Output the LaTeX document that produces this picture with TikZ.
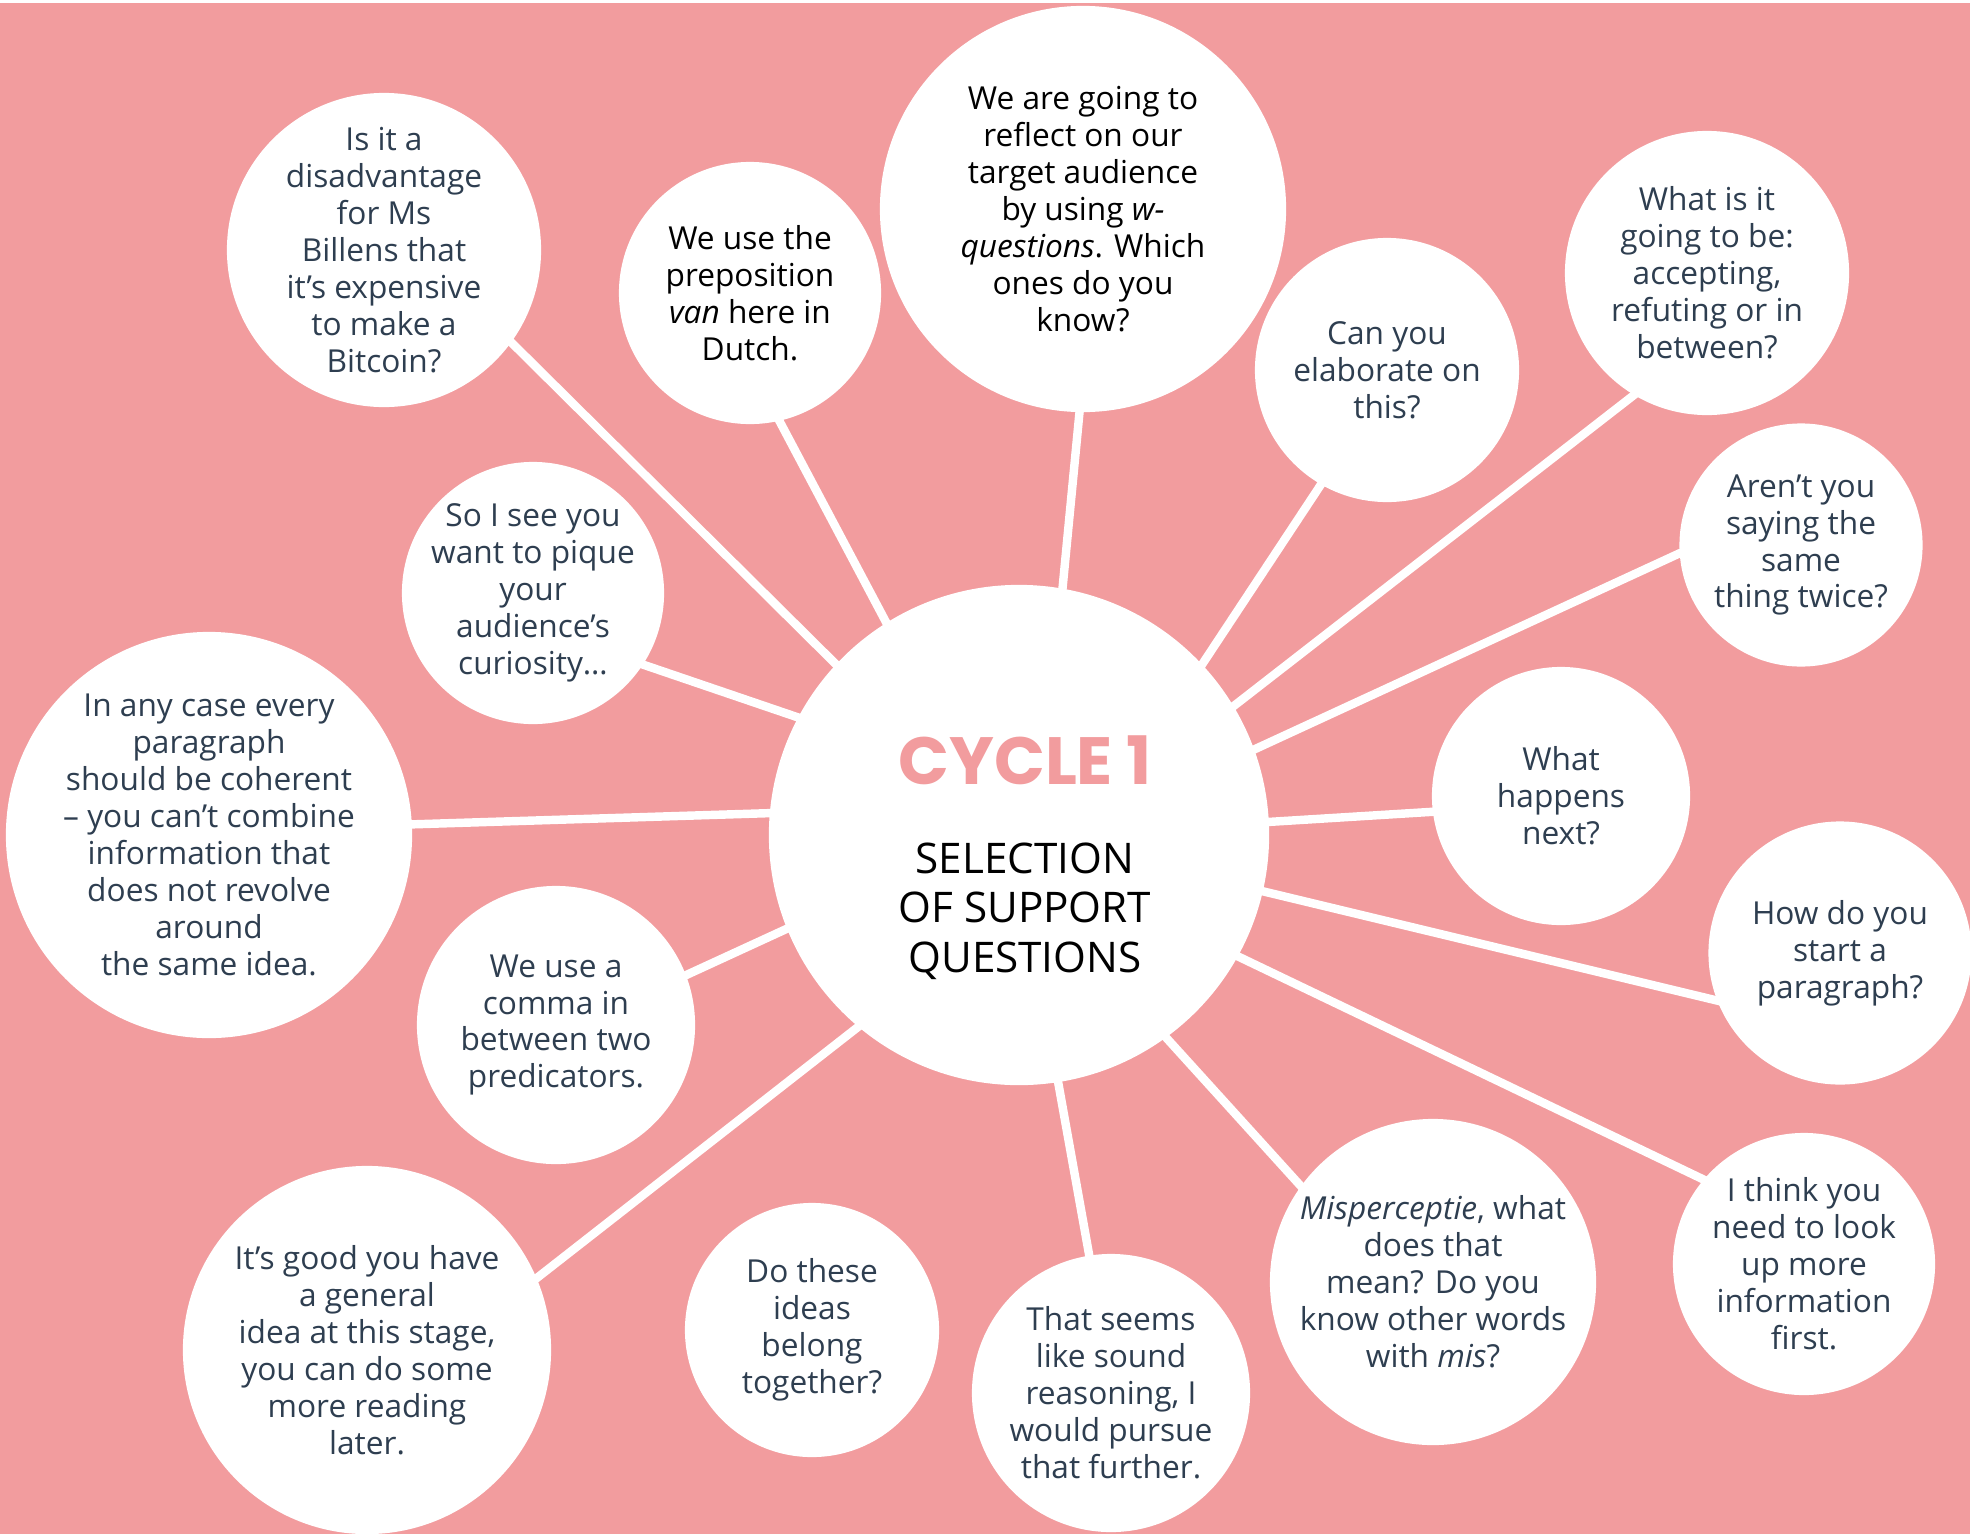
\documentclass[tikz,border=0pt]{standalone}
\usepackage{fontspec}
\setmainfont{Open Sans}
\newfontfamily\titlefont{Poppins}
\usetikzlibrary{backgrounds}
\definecolor{blush}{HTML}{F29C9E}
\definecolor{slate}{HTML}{2E3E50}

\tikzset{
  bubble/.style={circle, fill=white, inner sep=0pt, minimum size=#1},
  ask/.style={font=\fontsize{9}{10.5}\selectfont, text=slate, align=center},
  spoke/.style={draw=white, line width=2.4pt, shorten <=-4pt, shorten >=-4pt},
}

\begin{document}
\begin{tikzpicture}[x=0.01cm, y=-0.01cm]
    \useasboundingbox (0,0) rectangle (1970,1533);

    % hub
    \node[bubble=5cm, label={[xshift=0.06cm, yshift=-0.225cm, align=center, font=\fontsize{12}{14}\selectfont]center:{{\titlefont\bfseries\fontsize{19}{20}\selectfont\color{blush}CYCLE\hspace{0.2em}1}\\[0.4cm]SELECTION\\OF SUPPORT\\QUESTIONS}}] (hub) at (1019,835) {};

    % questions, clockwise from top left
    \node[bubble=3.14cm, label={[ask]center:{Is it a\\disadvantage\\for Ms\\Billens that\\it’s expensive\\to make a\\Bitcoin?}}] (bitcoin) at (384,250) {};
    \node[bubble=2.62cm, label={[ask, text=black]center:{We use the\\preposition\\\emph{van} here in\\Dutch.}}] (van) at (750,293) {};
    \node[bubble=4.06cm, label={[ask, text=black]center:{We are going to\\reflect on our\\target audience\\by using \emph{w-}\\\emph{questions}. Which\\ones do you\\know?}}] (wquest) at (1083,209) {};
    \node[bubble=2.64cm, label={[ask]center:{Can you\\elaborate on\\this?}}] (elaborate) at (1387,370) {};
    \node[bubble=2.84cm, label={[ask]center:{What is it\\going to be:\\accepting,\\refuting or in\\between?}}] (accepting) at (1707,273) {};
    \node[bubble=2.43cm, label={[ask]center:{Aren’t you\\saying the\\same\\thing twice?}}] (twice) at (1801,545) {};
    \node[bubble=2.58cm, label={[ask]center:{What\\happens\\next?}}] (next) at (1561,796) {};
    \node[bubble=2.63cm, label={[ask]center:{How do you\\start a\\paragraph?}}] (paragraph) at (1840,953) {};
    \node[bubble=2.62cm, label={[ask]center:{I think you\\need to look\\up more\\information\\first.}}] (lookup) at (1804,1264) {};
    \node[bubble=3.26cm, label={[ask]center:{\emph{Misperceptie}, what\\does that\\mean? Do you\\know other words\\with \emph{mis}?}}] (misper) at (1433,1282) {};
    \node[bubble=2.78cm, label={[ask]center:{That seems\\like sound\\reasoning, I\\would pursue\\that further.}}] (sound) at (1111,1393) {};
    \node[bubble=2.54cm, label={[ask]center:{Do these\\ideas\\belong\\together?}}] (belong) at (812,1330) {};
    \node[bubble=3.68cm, label={[ask]center:{It’s good you have\\a general\\idea at this stage,\\you can do some\\more reading\\later.}}] (general) at (367,1350) {};
    \node[bubble=2.78cm, label={[ask]center:{We use a\\comma in\\between two\\predicators.}}] (comma) at (556,1025) {};
    \node[bubble=4.06cm, label={[ask]center:{In any case every\\paragraph\\should be coherent\\– you can’t combine\\information that\\does not revolve\\around\\the same idea.}}] (coherent) at (209,835) {};
    \node[bubble=2.62cm, label={[ask]center:{So I see you\\want to pique\\your\\audience’s\\curiosity…}}] (pique) at (533,593) {};

    \begin{pgfonlayer}{background}
        \fill[blush] (-5,3) rectangle (1980,1545);
        \draw[spoke] (hub.137) -- (bitcoin.324);
        \draw[spoke] (hub.122) -- (van.283);
        \draw[spoke] (hub.80) -- (wquest.269);
        \draw[spoke] (hub.43) -- (elaborate.240);
        \draw[spoke] (hub.31) -- (accepting.239);
        \draw[spoke] (hub.20) -- (twice.184);
        \draw[spoke] (hub.3) -- (next.187);
        \draw[spoke] (hub.347) -- (paragraph.201);
        \draw[spoke] (hub.331) -- (lookup.140);
        \draw[spoke] (hub.306) -- (misper.144);
        \draw[spoke] (hub.279) -- (sound.99);
        \draw[spoke] (hub.230) -- (general.23);
        \draw[spoke] (hub.202) -- (comma.21);
        \draw[spoke] (hub.175) -- (coherent.3);
        \draw[spoke] (hub.152) -- (pique.327);
    \end{pgfonlayer}
\end{tikzpicture}
\end{document}
